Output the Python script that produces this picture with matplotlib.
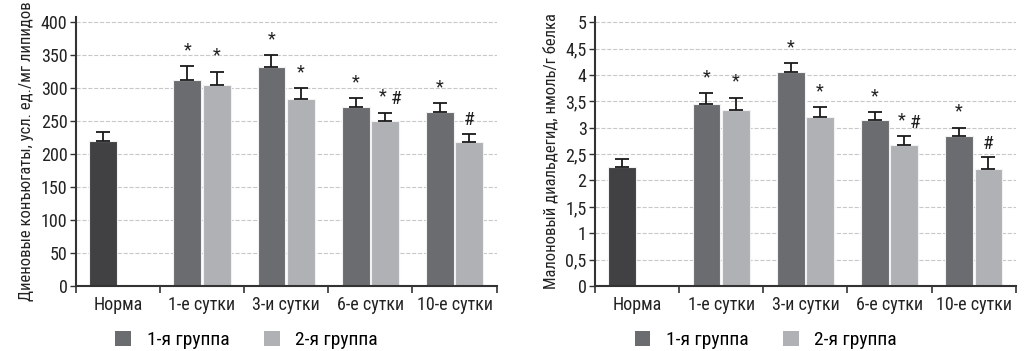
import numpy as np
import matplotlib
matplotlib.use("Agg")
import matplotlib.pyplot as plt
from matplotlib.patches import Patch

plt.rcParams['font.family'] = ['Roboto Condensed', 'DejaVu Sans']

categories = ['Норма', '1-е сутки', '3-и сутки', '6-е сутки', '10-е сутки']
legend_labels = ['1-я группа', '2-я группа']

# Диеновые конъюгаты
dk_norm = 220
dk_norm_err = 13
dk_g1 = [313, 332, 271, 264]
dk_g1_err = [20, 18, 14, 13]
dk_g2 = [305, 283, 250, 218]
dk_g2_err = [20, 17, 13, 13]
dk_g1_marks = ['*', '*', '*', '*']
dk_g2_marks = ['*', '*', '* #', '#']

# Малоновый диальдегид
mda_norm = 2.25
mda_norm_err = 0.15
mda_g1 = [3.45, 4.05, 3.14, 2.84]
mda_g1_err = [0.21, 0.17, 0.15, 0.16]
mda_g2 = [3.33, 3.21, 2.67, 2.21]
mda_g2_err = [0.24, 0.18, 0.17, 0.24]
mda_g1_marks = ['*', '*', '*', '*']
mda_g2_marks = ['*', '*', '* #', '#']

c_norm = '#414143'
c_g1 = '#6b6c70'
c_g2 = '#b0b1b4'
c_text = '#222222'


def mark(ax, x, top, text, dx=0):
    if text == '*':
        ax.annotate('*', (x, top), xytext=(dx, 5), textcoords='offset points',
                    ha='center', va='bottom', fontsize=13, color=c_text)
    else:
        ax.annotate('#', (x, top), xytext=(dx, 3), textcoords='offset points',
                    ha='center', va='bottom', fontsize=14, color=c_text)


def draw(ax, norm, norm_err, g1, g1_err, g2, g2_err, m1, m2, ylim, yticks, yticklabels, ylabel):
    w = 0.33
    off = 0.175
    x = np.arange(1, len(categories))
    ax.bar(-off, norm, w, color=c_norm, edgecolor='#f2f2f2', linewidth=0.8, zorder=2)
    ax.bar(x - off, g1, w, color=c_g1, edgecolor='#f2f2f2', linewidth=0.8, zorder=2)
    ax.bar(x + off, g2, w, color=c_g2, edgecolor='#f2f2f2', linewidth=0.8, zorder=2)
    ek = dict(fmt='none', ecolor='#1a1a1a', elinewidth=1.3, capsize=5, capthick=1.3, zorder=2.2)
    ax.errorbar([-off], [norm], yerr=[[0], [norm_err]], **ek)
    ax.errorbar(x - off, g1, yerr=[np.zeros(len(g1)), g1_err], **ek)
    ax.errorbar(x + off, g2, yerr=[np.zeros(len(g2)), g2_err], **ek)

    for xi, v, e, m in zip(x - off, g1, g1_err, m1):
        mark(ax, xi, v + e, m)
    for xi, v, e, m in zip(x + off, g2, g2_err, m2):
        if m == '* #':
            mark(ax, xi, v + e, '*', dx=-2)
            mark(ax, xi, v + e, '#', dx=8)
        else:
            mark(ax, xi, v + e, m)

    ax.set_xlim(-0.5, len(categories) - 0.5)
    ax.set_ylim(*ylim)
    ax.set_yticks(yticks)
    ax.set_yticklabels(yticklabels, fontsize=13, color=c_text)
    ax.set_xticks(np.arange(-0.5, len(categories), 1.0))
    ax.set_xticklabels([])
    ax.set_xticks(np.arange(len(categories)), minor=True)
    ax.set_xticklabels(categories, minor=True, fontsize=13, color=c_text)
    ax.tick_params(axis='x', which='minor', length=0, pad=7)
    ax.tick_params(axis='x', which='major', length=5, width=1.2, color='#333333', direction='out')
    ax.tick_params(axis='y', length=4, width=1, color='#333333', pad=2)
    ax.set_ylabel(ylabel, fontsize=12, color=c_text, labelpad=5)
    ax.grid(axis='y', linestyle='--', linewidth=0.8, color='#c8c8c8', zorder=0)
    ax.set_axisbelow(True)
    ax.spines['top'].set_visible(False)
    ax.spines['right'].set_visible(False)
    for s in ('left', 'bottom'):
        ax.spines[s].set_color('#333333')
        ax.spines[s].set_linewidth(1.5)
        ax.spines[s].set_zorder(3)

    handles = [Patch(facecolor=c_g1), Patch(facecolor=c_g2)]
    ax.legend(handles, legend_labels, loc='center', bbox_to_anchor=(0.406, -0.2), ncol=2,
              frameon=False, fontsize=14, handlelength=0.8, handleheight=0.8,
              columnspacing=1.8, handletextpad=0.8)


fig = plt.figure(figsize=(10.24, 3.51), dpi=100)
ax1 = fig.add_axes([0.074, 0.185, 0.411, 0.767])
ax2 = fig.add_axes([0.581, 0.185, 0.411, 0.767])

draw(ax1, dk_norm, dk_norm_err, dk_g1, dk_g1_err, dk_g2, dk_g2_err,
     dk_g1_marks, dk_g2_marks, (0, 408), np.arange(0, 401, 50),
     [str(v) for v in range(0, 401, 50)],
     'Диеновые конъюгаты, усл. ед./мг липидов')
mda_ticks = np.arange(0, 5.01, 0.5)
draw(ax2, mda_norm, mda_norm_err, mda_g1, mda_g1_err, mda_g2, mda_g2_err,
     mda_g1_marks, mda_g2_marks, (0, 5.1), mda_ticks,
     [('%g' % v).replace('.', ',') for v in mda_ticks],
     'Малоновый диальдегид, нмоль/г белка')

fig.savefig('out.png', dpi=100)
